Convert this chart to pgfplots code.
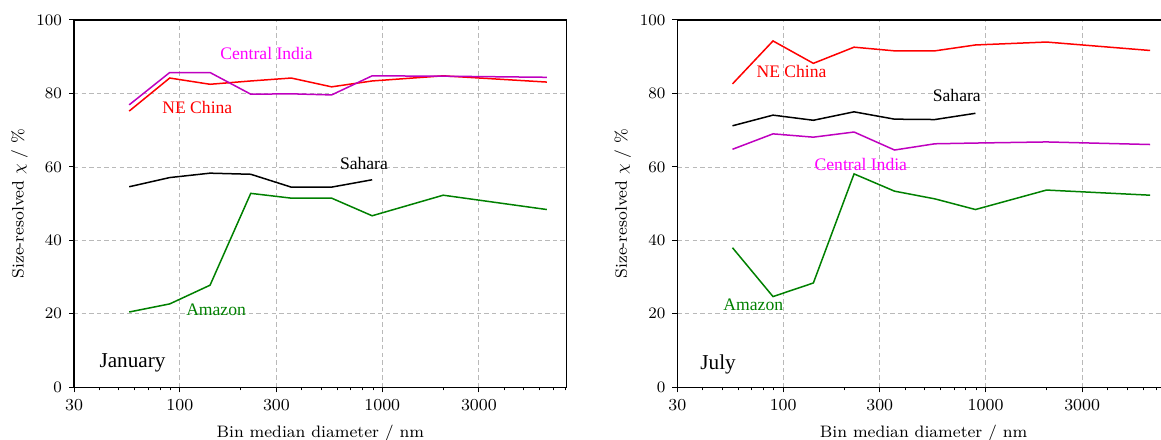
\documentclass[border=0pt]{standalone}
\usepackage{fontspec}
\usepackage{pgfplots}
\pgfplotsset{compat=1.18}
\newfontfamily\timesf{Liberation Serif}
\definecolor{cmag}{rgb}{0.75,0,0.75}
\definecolor{tmag}{rgb}{1,0,1}
\definecolor{cgrn}{rgb}{0,0.5,0}
\definecolor{cred}{rgb}{1,0,0}
\tikzset{
  lab/.style={font=\timesf\fontsize{8.8}{10}\selectfont},
  month/.style={font=\timesf\fontsize{10.6}{12}\selectfont, anchor=west},
}

\begin{document}
\begin{tikzpicture}
\path[use as bounding box, clip] (0,0) rectangle (580.5pt,219.5pt);

% January
\begin{axis}[at={(37pt,25.85pt)}, anchor=south west,
    xmode=log, scale only axis, width=246.35pt, height=183.65pt,
    xmin=30, xmax=8150, ymin=0, ymax=100,
    xtick={30,100,300,1000,3000}, xticklabels={30,100,300,1000,3000},
    minor xtick={40,50,60,70,80,90,200,400,500,600,700,800,900,2000,4000,5000,6000,7000,8000},
    ytick={0,20,40,60,80,100},
    xmajorgrids, ymajorgrids,
    major grid style={gray!55, dash pattern=on 2.2pt off 1.6pt, line width=0.4pt},
    tick align=outside, xtick pos=left, ytick pos=left,
    major tick length=2.5pt, minor tick length=1.5pt,
    tick style={black, line width=0.5pt},
    axis line style={line width=0.6pt},
    tick label style={font=\fontsize{8.4}{9}\selectfont},
    label style={font=\fontsize{8.3}{9}\selectfont},
    ylabel style={yshift=-2.5pt},
    xlabel={Bin median diameter / nm},
    ylabel={Size-resolved $\chi$ / \%}]
\addplot[cred, line width=0.75pt, no markers] coordinates {(56.2,75.2) (89.1,84.2) (141,82.5) (224,83.4) (355,84.2) (562,81.8) (891,83.4) (2000,84.8) (6500,83.1)};
\addplot[cmag, line width=0.75pt, no markers] coordinates {(56.2,76.9) (89.1,85.7) (141,85.7) (224,79.8) (355,79.9) (562,79.6) (891,84.8) (2000,84.7) (6500,84.4)};
\addplot[black, line width=0.75pt, no markers] coordinates {(56.2,54.6) (89.1,57.1) (141,58.3) (224,58.0) (355,54.5) (562,54.5) (891,56.5)};
\addplot[cgrn, line width=0.75pt, no markers] coordinates {(56.2,20.5) (89.1,22.7) (141,27.8) (224,52.8) (355,51.5) (562,51.5) (891,46.7) (2000,52.3) (6500,48.4)};
\node[lab, text=tmag] at (axis cs:268,90.9) {Central India};
\node[lab, text=cred] at (axis cs:122,76.1) {NE China};
\node[lab, text=black] at (axis cs:812,61.0) {Sahara};
\node[lab, text=cgrn] at (axis cs:151,21.2) {Amazon};
\node[month] at (axis cs:37,6.7) {January};
\end{axis}

% July
\begin{axis}[at={(338.65pt,25.85pt)}, anchor=south west,
    xmode=log, scale only axis, width=246.35pt, height=183.65pt,
    xmin=30, xmax=8150, ymin=0, ymax=100,
    xtick={30,100,300,1000,3000}, xticklabels={30,100,300,1000,3000},
    minor xtick={40,50,60,70,80,90,200,400,500,600,700,800,900,2000,4000,5000,6000,7000,8000},
    ytick={0,20,40,60,80,100},
    xmajorgrids, ymajorgrids,
    major grid style={gray!55, dash pattern=on 2.2pt off 1.6pt, line width=0.4pt},
    tick align=outside, xtick pos=left, ytick pos=left,
    major tick length=2.5pt, minor tick length=1.5pt,
    tick style={black, line width=0.5pt},
    axis line style={line width=0.6pt},
    tick label style={font=\fontsize{8.4}{9}\selectfont},
    label style={font=\fontsize{8.3}{9}\selectfont},
    ylabel style={yshift=-2.5pt},
    xlabel={Bin median diameter / nm},
    ylabel={Size-resolved $\chi$ / \%}]
\addplot[cred, line width=0.75pt, no markers] coordinates {(56.2,82.6) (89.1,94.3) (141,88.2) (224,92.6) (355,91.6) (562,91.6) (891,93.2) (2000,94.0) (6500,91.7)};
\addplot[black, line width=0.75pt, no markers] coordinates {(56.2,71.2) (89.1,74.1) (141,72.7) (224,75.0) (355,73.0) (562,72.9) (891,74.6)};
\addplot[cmag, line width=0.75pt, no markers] coordinates {(56.2,64.8) (89.1,69.0) (141,68.1) (224,69.5) (355,64.6) (562,66.3) (891,66.5) (2000,66.8) (6500,66.1)};
\addplot[cgrn, line width=0.75pt, no markers] coordinates {(56.2,38.0) (89.1,24.7) (141,28.4) (224,58.1) (355,53.4) (562,51.3) (891,48.4) (2000,53.7) (6500,52.3)};
\node[lab, text=cred] at (axis cs:110,85.9) {NE China};
\node[lab, text=black] at (axis cs:721,79.4) {Sahara};
\node[lab, text=tmag] at (axis cs:242,60.7) {Central India};
\node[lab, text=cgrn] at (axis cs:71.2,22.6) {Amazon};
\node[month] at (axis cs:36,6.3) {July};
\end{axis}
\end{tikzpicture}
\end{document}
